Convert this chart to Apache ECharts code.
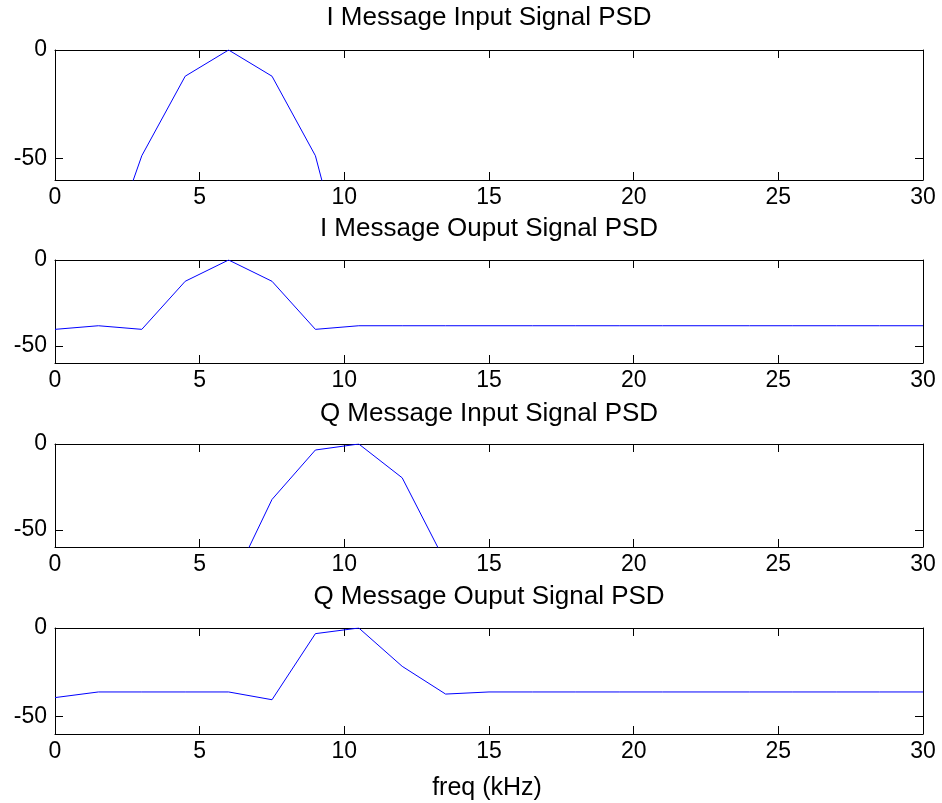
<!DOCTYPE html>
<html>
<head>
<meta charset="utf-8">
<script src="https://cdn.jsdelivr.net/npm/echarts@6/dist/echarts.min.js"></script>
<style>
html,body{margin:0;padding:0;background:#fff;}
#chart{width:942px;height:803px;}
</style>
</head>
<body>
<div id="chart"></div>
<script>
// ---- data ----
const freq = [0, 1.5, 3, 4.5, 6, 7.5, 9, 10.5, 12, 13.5, 15, 16.5, 18, 19.5, 21, 22.5, 24, 25.5, 27, 28.5, 30];
const iInputPSD  = [-150, -106, -48.8, -12.1, 0, -12.1, -48.8, -125, -150, -150, -150, -150, -150, -150, -150, -150, -150, -150, -150, -150, -150];
const iOutputPSD = [-40.4, -38.3, -40.4, -12.4, 0, -12.4, -40.4, -38.3, -38.3, -38.3, -38.3, -38.3, -38.3, -38.3, -38.3, -38.3, -38.3, -38.3, -38.3, -38.3, -38.3];
const qInputPSD  = [-150, -150, -150, -150, -85, -32.3, -3.5, 0, -19.7, -69, -150, -150, -150, -150, -150, -150, -150, -150, -150, -150, -150];
const qOutputPSD = [-39.4, -36.2, -36.2, -36.2, -36.2, -40.6, -3.2, 0, -21.7, -37.4, -36.2, -36.2, -36.2, -36.2, -36.2, -36.2, -36.2, -36.2, -36.2, -36.2, -36.2];
const titles = ['I Message Input Signal PSD', 'I Message Ouput Signal PSD', 'Q Message Input Signal PSD', 'Q Message Ouput Signal PSD'];
const xTicks = { min: 0, max: 30, interval: 5 };
const yTickValues = [-50, 0];
const yRange = { min: -60, max: 0 };
const xLabel = 'freq (kHz)';

// ---- layout ----
const FONT = "'Liberation Sans', Arial, Helvetica, sans-serif";
const gridBoxes = [
  { top: 50, height: 130 },
  { top: 260, height: 103 },
  { top: 444, height: 103 },
  { top: 628, height: 106 }
];
const titleY = [18, 229, 414, 597];
const seriesData = [iInputPSD, iOutputPSD, qInputPSD, qOutputPSD];

const grids = [], xAxes = [], yAxes = [], series = [], graphics = [];
const lineStyle = { color: '#000', width: 1 };
gridBoxes.forEach((b, g) => {
  grids.push({ left: 55, right: 19, top: b.top, height: b.height, containLabel: false, outerBoundsMode: 'none' });
  const xBase = {
    gridIndex: g, type: 'value', min: xTicks.min, max: xTicks.max, interval: xTicks.interval,
    axisLine: { show: true, onZero: false, lineStyle },
    axisTick: { show: true, inside: true, length: 8, lineStyle },
    splitLine: { show: false }
  };
  xAxes.push(Object.assign({}, xBase, {
    position: 'bottom',
    axisLabel: { show: true, fontSize: 23, color: '#000', fontFamily: FONT, margin: 6 }
  }));
  xAxes.push(Object.assign({}, xBase, { position: 'top', axisLabel: { show: false } }));
  const yBase = {
    gridIndex: g, type: 'value', min: yRange.min, max: yRange.max,
    axisLine: { show: true, onZero: false, lineStyle },
    axisTick: { show: true, inside: true, length: 8, lineStyle, customValues: yTickValues },
    splitLine: { show: false }
  };
  yAxes.push(Object.assign({}, yBase, {
    position: 'left',
    axisLabel: { show: true, fontSize: 23, color: '#000', fontFamily: FONT, margin: 8, customValues: yTickValues }
  }));
  yAxes.push(Object.assign({}, yBase, { position: 'right', axisLabel: { show: false, customValues: yTickValues } }));
  series.push({
    type: 'line', xAxisIndex: 2 * g, yAxisIndex: 2 * g,
    data: freq.map((f, i) => [f, seriesData[g][i]]),
    showSymbol: false, symbol: 'none', clip: true, animation: false,
    lineStyle: { color: '#0000ff', width: 1 }
  });
  graphics.push({
    type: 'text', x: 489, y: titleY[g],
    style: { text: titles[g], font: '26px ' + FONT, fill: '#000', textAlign: 'center', textVerticalAlign: 'middle' }
  });
});
graphics.push({
  type: 'text', x: 487, y: 788,
  style: { text: xLabel, font: '25px ' + FONT, fill: '#000', textAlign: 'center', textVerticalAlign: 'middle' }
});

const chart = echarts.init(document.getElementById('chart'), null, { renderer: 'canvas' });
chart.setOption({
  backgroundColor: '#fff',
  animation: false,
  grid: grids,
  xAxis: xAxes,
  yAxis: yAxes,
  series: series,
  graphic: graphics
});
</script>
</body>
</html>
